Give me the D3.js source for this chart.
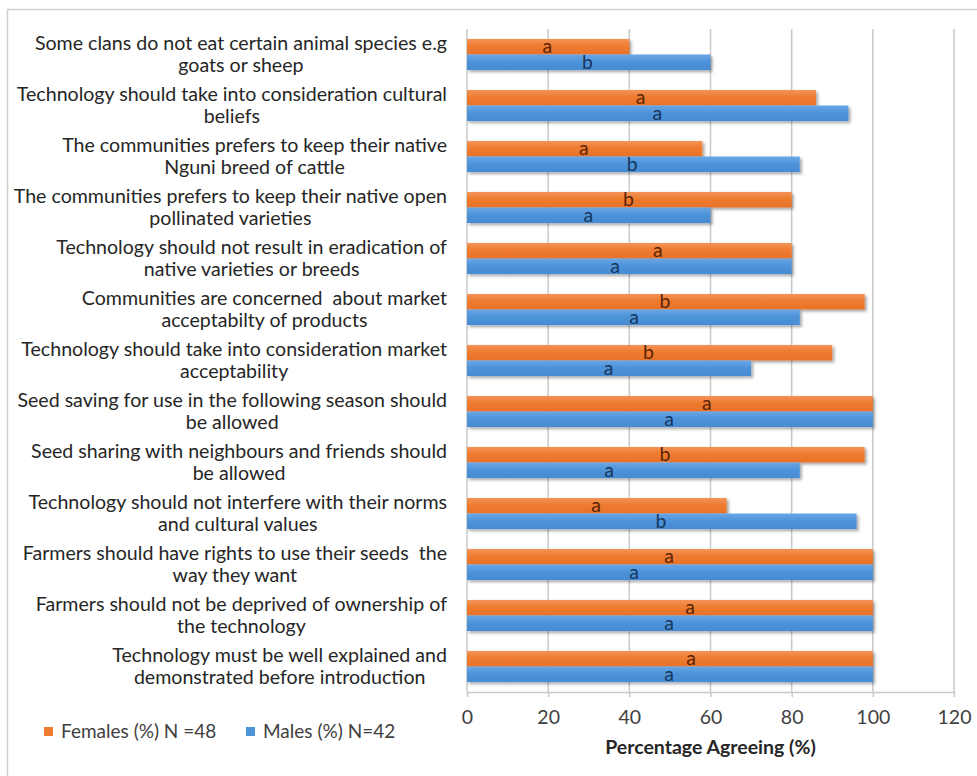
<!DOCTYPE html>
<html>
<head>
<meta charset="utf-8">
<script src="https://cdn.jsdelivr.net/npm/d3@7"></script>
<style>
  html, body { margin: 0; padding: 0; background: #fff; }
  svg { display: block; }
</style>
</head>
<body>
<svg id="chart" width="977" height="776"></svg>
<script>
// ---- data (top to bottom) ----
const categories = [
  ["Some clans do not eat certain animal species e.g", "goats or sheep"],
  ["Technology should take into consideration cultural", "beliefs"],
  ["The communities prefers to keep their native", "Nguni breed of cattle"],
  ["The communities prefers to keep their native open", "pollinated varieties"],
  ["Technology should not result in eradication of", "native varieties or breeds"],
  ["Communities are concerned  about market", "acceptabilty of products"],
  ["Technology should take into consideration market", "acceptability"],
  ["Seed saving for use in the following season should", "be allowed"],
  ["Seed sharing with neighbours and friends should", "be allowed"],
  ["Technology should not interfere with their norms", "and cultural values"],
  ["Farmers should have rights to use their seeds  the", "way they want"],
  ["Farmers should not be deprived of ownership of", "the technology"],
  ["Technology must be well explained and", "demonstrated before introduction"]
];
const females = [40, 86, 58, 80, 80, 98, 90, 100, 98, 64, 100, 100, 100];
const males   = [60, 94, 82, 60, 80, 82, 70, 100, 82, 96, 100, 100, 100];
const femaleLetters = ["a","a","a","b","a","b","b","a","b","a","a","a","a"];
const maleLetters   = ["b","a","b","a","a","a","a","a","a","b","a","a","a"];
// where each significance letter sits, in axis units (%)
const femaleLetterAt = [19.8, 42.8, 28.8, 39.8, 47.0, 48.8, 44.7, 59.1, 48.8, 31.8, 49.8, 55.0, 55.2];
const maleLetterAt   = [29.7, 46.9, 40.7, 29.9, 36.5, 41.2, 34.9, 49.8, 35.0, 47.8, 41.2, 49.8, 49.8];
const xTicks = [0, 20, 40, 60, 80, 100, 120];
const seriesNames = ["Females (%) N =48", "Males (%) N=42"];
const xTitle = "Percentage Agreeing (%)";

// ---- layout ----
const svg = d3.select("#chart");
const FONT = "Lato, 'Open Sans', sans-serif";
const plot = { left: 467, right: 954, top: 29, bottom: 692 };
const colF = "#EE7B30", colM = "#4E94DB";
const gridCol = "#c9c9c9";

const defs = svg.append("defs");
const f = defs.append("filter").attr("id", "shadow")
  .attr("x", "-5%").attr("y", "-30%").attr("width", "115%").attr("height", "180%");
f.append("feDropShadow").attr("dx", 2).attr("dy", 2).attr("stdDeviation", 1.4)
  .attr("flood-color", "#000").attr("flood-opacity", 0.35);

function grad(id, top, mid, bot) {
  const g = defs.append("linearGradient").attr("id", id)
    .attr("x1", 0).attr("y1", 0).attr("x2", 0).attr("y2", 1);
  g.append("stop").attr("offset", "0%").attr("stop-color", top);
  g.append("stop").attr("offset", "45%").attr("stop-color", mid);
  g.append("stop").attr("offset", "100%").attr("stop-color", bot);
}
grad("gF", "#F4945A", "#EF7B2F", "#E8722A");
grad("gM", "#6AA6E4", "#4E94DB", "#478BD2");

// outer frame (only left and top visible)
svg.append("path").attr("d", "M7.5,776 L7.5,9.5 L977,9.5")
  .attr("fill", "none").attr("stroke", "#cfcfcf").attr("stroke-width", 1.5);

const x = d3.scaleLinear().domain([0, 120]).range([plot.left, plot.right]);
const idx = categories.map((d, i) => i);
const y = d3.scaleBand().domain(idx).range([plot.top, plot.bottom])
  .paddingInner(0.39).paddingOuter(0.39 / 2);
const ySub = d3.scaleBand().domain([0, 1]).range([0, y.bandwidth()]);

// gridlines
svg.append("g").selectAll("line").data(xTicks).join("line")
  .attr("x1", d => x(d)).attr("x2", d => x(d))
  .attr("y1", plot.top).attr("y2", plot.bottom)
  .attr("stroke", gridCol).attr("stroke-width", 1.5);

// x axis
const ax = svg.append("g").attr("transform", `translate(0,${plot.bottom})`)
  .call(d3.axisBottom(x).tickValues(xTicks).tickSize(5).tickSizeOuter(0).tickPadding(13));
ax.select(".domain").attr("stroke", gridCol).attr("stroke-width", 1.5);
ax.selectAll(".tick line").attr("stroke", gridCol).attr("stroke-width", 1.5);
ax.selectAll(".tick text").attr("font-family", FONT).attr("font-size", 19.5)
  .attr("fill", "#404040");

// bars
const groups = svg.append("g").selectAll("g").data(idx).join("g")
  .attr("transform", i => `translate(0,${y(i)})`);

groups.append("rect")
  .attr("x", x(0)).attr("y", ySub(0))
  .attr("width", i => x(females[i]) - x(0)).attr("height", ySub.bandwidth())
  .attr("fill", "url(#gF)").attr("filter", "url(#shadow)");
groups.append("rect")
  .attr("x", x(0)).attr("y", ySub(1))
  .attr("width", i => x(males[i]) - x(0)).attr("height", ySub.bandwidth())
  .attr("fill", "url(#gM)").attr("filter", "url(#shadow)");

// significance letters
groups.append("text")
  .attr("x", i => x(femaleLetterAt[i])).attr("y", ySub(0) + ySub.bandwidth() / 2)
  .attr("dy", "0.33em").attr("text-anchor", "middle")
  .attr("font-family", FONT).attr("font-size", 19.5).attr("fill", "#5c2406")
  .text(i => femaleLetters[i]);
groups.append("text")
  .attr("x", i => x(maleLetterAt[i])).attr("y", ySub(1) + ySub.bandwidth() / 2)
  .attr("dy", "0.33em").attr("text-anchor", "middle")
  .attr("font-family", FONT).attr("font-size", 19.5).attr("fill", "#17375e")
  .text(i => maleLetters[i]);

// category labels: two centred lines, block right-aligned at 447
const labelRight = 447;
const lab = svg.append("g");
categories.forEach((lines, i) => {
  const cy = y(i) + y.bandwidth() / 2;
  const t = lab.append("text").attr("font-family", FONT).attr("font-size", 19.6)
    .attr("fill", "#262626").attr("text-anchor", "middle").attr("y", cy)
    .attr("xml:space", "preserve");
  const tsp = lines.map((ln, k) => t.append("tspan").attr("y", cy + (k === 0 ? -11 : 11))
    .attr("dy", "0.35em").text(ln));
  const w = Math.max(...tsp.map(s => s.node().getComputedTextLength()));
  tsp.forEach(s => s.attr("x", labelRight - w / 2));
});

// axis title
svg.append("text").attr("x", x(60)).attr("y", 754).attr("text-anchor", "middle")
  .attr("font-family", FONT).attr("font-size", 19.5).attr("font-weight", "bold")
  .attr("fill", "#262626").text(xTitle);

// legend
const leg = svg.append("g");
const legX = [44, 246];
[colF, colM].forEach((c, k) => {
  leg.append("rect").attr("x", legX[k]).attr("y", 727).attr("width", 9).attr("height", 9)
    .attr("fill", c);
  leg.append("text").attr("x", legX[k] + 17).attr("y", 731.5).attr("dy", "0.35em")
    .attr("font-family", FONT).attr("font-size", 19).attr("fill", "#404040")
    .text(seriesNames[k]);
});
</script>
</body>
</html>
